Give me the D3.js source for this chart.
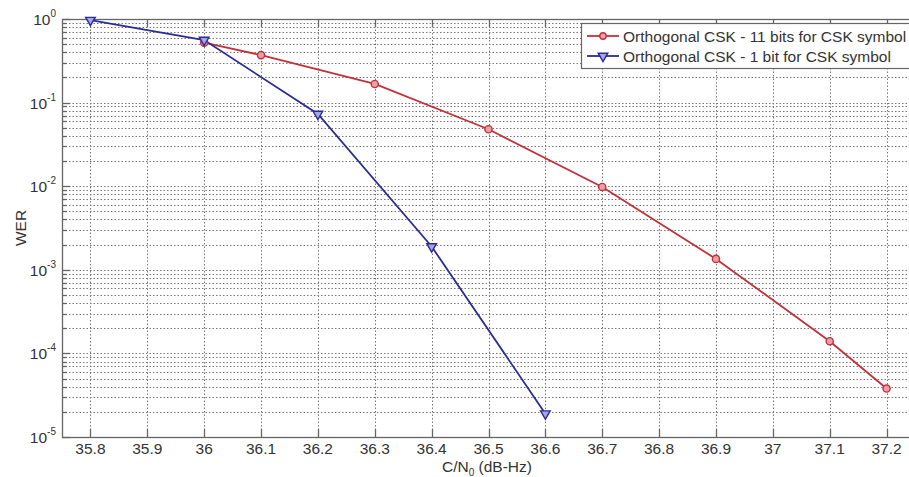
<!DOCTYPE html>
<html>
<head>
<meta charset="utf-8">
<script src="https://cdn.jsdelivr.net/npm/d3@7"></script>
<style>
  html, body { margin: 0; padding: 0; background: #fff; }
  svg { display: block; font-family: Arial, "Liberation Sans", sans-serif; }
</style>
</head>
<body>
<svg id="chart" width="909" height="477"></svg>
<script>
// C/N0 values (dB-Hz) and word error rates for each scheme
const cn0Eleven = [36.0, 36.1, 36.3, 36.5, 36.7, 36.9, 37.1, 37.2];
const werEleven = [0.52, 0.37, 0.167, 0.048, 0.0098, 0.00135, 0.00014, 0.000038];
const cn0One = [35.8, 36.0, 36.2, 36.4, 36.6];
const werOne = [0.97, 0.56, 0.073, 0.0019, 0.000019];

const xTicks = [35.8, 35.9, 36.0, 36.1, 36.2, 36.3, 36.4, 36.5, 36.6, 36.7, 36.8, 36.9, 37.0, 37.1, 37.2];
const yDecades = [0, -1, -2, -3, -4, -5];
const seriesNames = ["Orthogonal CSK - 11 bits for CSK symbol", "Orthogonal CSK - 1 bit for CSK symbol"];
const seriesColors = ["#c4303a", "#2b2b98"];

const svg = d3.select("#chart");
const m = { left: 62, top: 19, right: 915, bottom: 437 };
const fs = 15.5;

const x = d3.scaleLinear().domain([35.75, 37.25]).range([m.left, m.right]);
const y = d3.scaleLog().domain([1e-5, 1]).range([m.bottom, m.top]);

// minor log values for the grid
const minorVals = [];
for (let e = -5; e < 0; e++) for (let k = 2; k <= 9; k++) minorVals.push(k * Math.pow(10, e));
const majorVals = yDecades.map(e => Math.pow(10, e));

const grid = svg.append("g").attr("stroke", "#777").attr("stroke-width", 1)
  .attr("stroke-dasharray", "1.5,2").attr("fill", "none");
minorVals.concat(majorVals.slice(1, -1)).forEach(v => {
  const yy = Math.round(y(v)) + 0.5;
  grid.append("line").attr("x1", m.left).attr("x2", m.right).attr("y1", yy).attr("y2", yy);
});
xTicks.forEach(t => {
  const xx = Math.round(x(t)) + 0.5;
  grid.append("line").attr("x1", xx).attr("x2", xx).attr("y1", m.top).attr("y2", m.bottom);
});

// axes frame
const axisColor = "#666";
svg.append("rect").attr("x", m.left + 0.5).attr("y", m.top + 0.5)
  .attr("width", m.right - m.left).attr("height", m.bottom - m.top)
  .attr("fill", "none").attr("stroke", axisColor).attr("stroke-width", 1.3);

// x ticks (inward, bottom and top)
const ticks = svg.append("g").attr("stroke", axisColor).attr("stroke-width", 1.3);
xTicks.forEach(t => {
  const xx = Math.round(x(t)) + 0.5;
  ticks.append("line").attr("x1", xx).attr("x2", xx).attr("y1", m.bottom).attr("y2", m.bottom - 8);
  ticks.append("line").attr("x1", xx).attr("x2", xx).attr("y1", m.top).attr("y2", m.top + 8);
});
// y ticks: major and minor, inward on the left
majorVals.forEach(v => {
  const yy = Math.round(y(v)) + 0.5;
  ticks.append("line").attr("x1", m.left).attr("x2", m.left + 8).attr("y1", yy).attr("y2", yy);
});
minorVals.forEach(v => {
  const yy = Math.round(y(v)) + 0.5;
  ticks.append("line").attr("x1", m.left).attr("x2", m.left + 5).attr("y1", yy).attr("y2", yy);
});

// x tick labels
svg.append("g").selectAll("text").data(xTicks).join("text")
  .attr("x", d => x(d)).attr("y", m.bottom + 17)
  .attr("text-anchor", "middle").attr("font-size", fs).attr("fill", "#333")
  .text(d => String(+d.toFixed(1)));

// y tick labels 10^n
const yl = svg.append("g").attr("fill", "#333");
yDecades.forEach(e => {
  const t = yl.append("text").attr("x", m.left - 6).attr("y", y(Math.pow(10, e)) + 6)
    .attr("text-anchor", "end").attr("font-size", fs);
  t.append("tspan").text("10");
  t.append("tspan").attr("dy", -8).attr("font-size", 10).text(e);
});

// axis labels
svg.append("text").attr("transform", `translate(26,${(m.top + m.bottom) / 2}) rotate(-90)`)
  .attr("text-anchor", "middle").attr("font-size", fs).attr("fill", "#333").text("WER");
const xl = svg.append("text").attr("x", 487).attr("y", 472).attr("text-anchor", "middle")
  .attr("font-size", fs).attr("fill", "#333");
xl.append("tspan").text("C/N");
xl.append("tspan").attr("dy", 4).attr("font-size", 10).text("0");
xl.append("tspan").attr("dy", -4).text(" (dB-Hz)");

// series lines
const line = d3.line().x(d => x(d[0])).y(d => y(d[1]));
const redData = d3.zip(cn0Eleven, werEleven);
const blueData = d3.zip(cn0One, werOne);

svg.append("path").datum(redData).attr("d", line).attr("fill", "none")
  .attr("stroke", seriesColors[0]).attr("stroke-width", 1.8);
svg.append("path").datum(blueData).attr("d", line).attr("fill", "none")
  .attr("stroke", seriesColors[1]).attr("stroke-width", 1.8);

// markers
const tri = d3.symbol().type(d3.symbolTriangle).size(40);
svg.append("g").selectAll("circle").data(redData).join("circle")
  .attr("cx", d => x(d[0])).attr("cy", d => y(d[1])).attr("r", 3.6)
  .attr("fill", "#e8a0a6").attr("stroke", seriesColors[0]).attr("stroke-width", 1.4);
svg.append("g").selectAll("path").data(blueData).join("path")
  .attr("transform", d => `translate(${x(d[0])},${y(d[1])}) rotate(180)`)
  .attr("d", tri).attr("fill", "#a6a6e0").attr("stroke", seriesColors[1]).attr("stroke-width", 1.4);

// legend
const lg = svg.append("g");
lg.append("rect").attr("x", 581.5).attr("y", 23.5).attr("width", 340).attr("height", 45)
  .attr("fill", "#fff").attr("stroke", axisColor).attr("stroke-width", 1.2);
seriesNames.forEach((name, i) => {
  const yy = 36 + i * 20;
  lg.append("line").attr("x1", 587).attr("x2", 619).attr("y1", yy).attr("y2", yy)
    .attr("stroke", seriesColors[i]).attr("stroke-width", 1.8);
  if (i === 0) {
    lg.append("circle").attr("cx", 603).attr("cy", yy).attr("r", 3.2)
      .attr("fill", "#e8a0a6").attr("stroke", seriesColors[0]).attr("stroke-width", 1.4);
  } else {
    lg.append("path").attr("transform", `translate(603,${yy}) rotate(180)`).attr("d", tri)
      .attr("fill", "#a6a6e0").attr("stroke", seriesColors[1]).attr("stroke-width", 1.4);
  }
  lg.append("text").attr("x", 623).attr("y", yy + 5.5).attr("font-size", fs).attr("fill", "#333").text(name);
});
</script>
</body>
</html>
